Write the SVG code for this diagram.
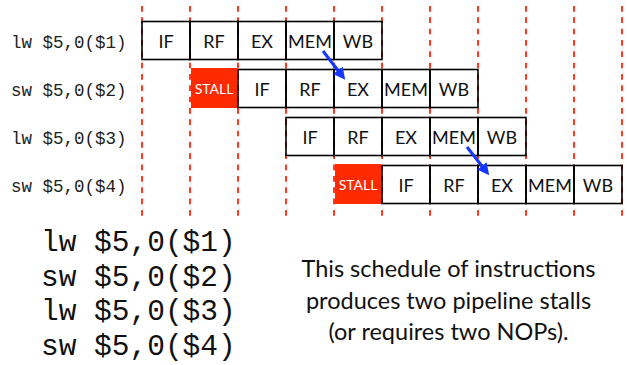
<svg xmlns="http://www.w3.org/2000/svg" width="627" height="365" viewBox="0 0 627 365">
<defs>
<style>
.grid{stroke:#ff3a1e;stroke-width:2;stroke-dasharray:5.7 5.63;fill:none}
.box{fill:none;stroke:#000;stroke-width:1.6}
.stall{fill:#ff2a00}
.st{font-family:Lato,"Open Sans",sans-serif;font-size:18px;fill:#111;text-anchor:middle}
.sl{font-family:Lato,"Open Sans",sans-serif;font-size:14px;fill:#fff;text-anchor:middle}
.lbl{font-family:"Liberation Mono","DejaVu Sans Mono",monospace;font-size:17.5px;fill:#222}
.code{font-family:"Liberation Mono","DejaVu Sans Mono",monospace;font-size:29.5px;fill:#111}
.note{font-family:Lato,"Open Sans",sans-serif;font-size:23.5px;fill:#111;text-anchor:middle}
.arr{stroke:#1436ff;stroke-width:3;fill:none;marker-end:url(#ah)}
</style>
<marker id="ah" viewBox="0 0 10 10" refX="7" refY="5" markerWidth="4" markerHeight="4" orient="auto" markerUnits="strokeWidth">
<path d="M0,0 L10,5 L0,10 z" fill="#1436ff"/>
</marker>
</defs>
<rect width="627" height="365" fill="#fff"/>
<g id="grid">
<line class="grid" x1="142" y1="6" x2="142" y2="217"/>
<line class="grid" x1="190" y1="6" x2="190" y2="217"/>
<line class="grid" x1="238" y1="6" x2="238" y2="217"/>
<line class="grid" x1="286" y1="6" x2="286" y2="217"/>
<line class="grid" x1="334" y1="6" x2="334" y2="217"/>
<line class="grid" x1="382" y1="6" x2="382" y2="217"/>
<line class="grid" x1="430" y1="6" x2="430" y2="217"/>
<line class="grid" x1="478" y1="6" x2="478" y2="217"/>
<line class="grid" x1="526" y1="6" x2="526" y2="217"/>
<line class="grid" x1="574" y1="6" x2="574" y2="217"/>
<line class="grid" x1="622" y1="6" x2="622" y2="217"/>
</g>
<g id="labels">
<text class="lbl" x="11" y="47.5">lw $5,0($1)</text>
<text class="lbl" x="11" y="95.5">sw $5,0($2)</text>
<text class="lbl" x="11" y="143.5">lw $5,0($3)</text>
<text class="lbl" x="11" y="191.5">sw $5,0($4)</text>
</g>
<g id="row1">
<rect class="box" x="142" y="21.5" width="48" height="38"/><text class="st" x="166" y="47.5">IF</text>
<rect class="box" x="190" y="21.5" width="48" height="38"/><text class="st" x="214" y="47.5">RF</text>
<rect class="box" x="238" y="21.5" width="48" height="38"/><text class="st" x="262" y="47.5">EX</text>
<rect class="box" x="286" y="21.5" width="48" height="38"/><text class="st" x="310" y="47.5">MEM</text>
<rect class="box" x="334" y="21.5" width="48" height="38"/><text class="st" x="358" y="47.5">WB</text>
</g>
<g id="row2">
<rect class="stall" x="191" y="68" width="46" height="40"/><text class="sl" x="214" y="93.5">STALL</text>
<rect class="box" x="238" y="69.5" width="48" height="38"/><text class="st" x="262" y="95.5">IF</text>
<rect class="box" x="286" y="69.5" width="48" height="38"/><text class="st" x="310" y="95.5">RF</text>
<rect class="box" x="334" y="69.5" width="48" height="38"/><text class="st" x="358" y="95.5">EX</text>
<rect class="box" x="382" y="69.5" width="48" height="38"/><text class="st" x="406" y="95.5">MEM</text>
<rect class="box" x="430" y="69.5" width="48" height="38"/><text class="st" x="454" y="95.5">WB</text>
</g>
<g id="row3">
<rect class="box" x="286" y="117.5" width="48" height="38"/><text class="st" x="310" y="143.5">IF</text>
<rect class="box" x="334" y="117.5" width="48" height="38"/><text class="st" x="358" y="143.5">RF</text>
<rect class="box" x="382" y="117.5" width="48" height="38"/><text class="st" x="406" y="143.5">EX</text>
<rect class="box" x="430" y="117.5" width="48" height="38"/><text class="st" x="454" y="143.5">MEM</text>
<rect class="box" x="478" y="117.5" width="48" height="38"/><text class="st" x="502" y="143.5">WB</text>
</g>
<g id="row4">
<rect class="stall" x="335" y="164" width="46" height="40"/><text class="sl" x="358" y="189.5">STALL</text>
<rect class="box" x="382" y="165.5" width="48" height="38"/><text class="st" x="406" y="191.5">IF</text>
<rect class="box" x="430" y="165.5" width="48" height="38"/><text class="st" x="454" y="191.5">RF</text>
<rect class="box" x="478" y="165.5" width="48" height="38"/><text class="st" x="502" y="191.5">EX</text>
<rect class="box" x="526" y="165.5" width="48" height="38"/><text class="st" x="550" y="191.5">MEM</text>
<rect class="box" x="574" y="165.5" width="48" height="38"/><text class="st" x="598" y="191.5">WB</text>
</g>
<g id="connectors">
<line class="arr" x1="323" y1="51" x2="343" y2="77"/>
<line class="arr" x1="467" y1="147" x2="487" y2="172.5"/>
</g>
<g id="code">
<text class="code" x="41" y="251">lw $5,0($1)</text>
<text class="code" x="41" y="285.5">sw $5,0($2)</text>
<text class="code" x="41" y="320">lw $5,0($3)</text>
<text class="code" x="41" y="354.5">sw $5,0($4)</text>
</g>
<g id="note">
<text class="note" x="448.5" y="277">This schedule of instructions</text>
<text class="note" x="448.5" y="308.5">produces two pipeline stalls</text>
<text class="note" x="448.5" y="340">(or requires two NOPs).</text>
</g>
</svg>
